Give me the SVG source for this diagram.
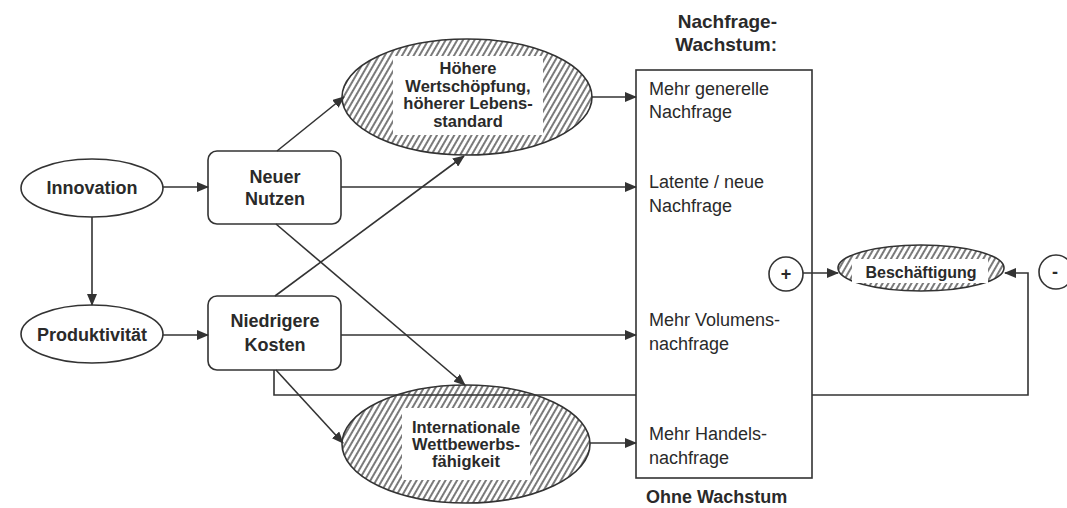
<svg xmlns="http://www.w3.org/2000/svg" width="1067" height="508" viewBox="0 0 1067 508">
<style>
.ln{fill:none;stroke:#333;stroke-width:1.6}
.nd{fill:#fff;stroke:#333;stroke-width:1.6}
.ht{fill:url(#hatch);stroke:#333;stroke-width:1.6}
.wb{fill:#fff;stroke:none}
text{font-family:"Liberation Sans",Arial,sans-serif;fill:#2a2a2a}
.b{font-weight:bold;font-size:18px;text-anchor:middle}
.e{font-weight:bold;font-size:16.5px;text-anchor:middle}
.r{font-size:18px}
.h{font-weight:bold;font-size:19px}
</style>
<defs>
<pattern id="hatch" width="5" height="10" patternUnits="userSpaceOnUse" patternTransform="rotate(30)">
<rect width="5" height="10" fill="#fff"/>
<line x1="1" y1="0" x2="1" y2="10" stroke="#333" stroke-width="1.3"/>
</pattern>
<marker id="ar" markerWidth="12" markerHeight="10" refX="11" refY="5" orient="auto" markerUnits="userSpaceOnUse">
<path d="M0,0 L12,5 L0,10 Z" fill="#333"/>
</marker>
</defs>

<g id="innovation">
<ellipse class="nd" cx="92" cy="188" rx="71" ry="29"/>
<text class="b" x="92" y="194">Innovation</text>
</g>
<g id="produktivitaet">
<ellipse class="nd" cx="92" cy="334" rx="71" ry="29"/>
<text class="b" x="92" y="341">Produktivität</text>
</g>
<g id="neuer-nutzen">
<rect class="nd" x="208" y="151" width="133" height="73" rx="9"/>
<text class="b" x="275" y="183">Neuer</text>
<text class="b" x="275" y="205">Nutzen</text>
</g>
<g id="niedrigere-kosten">
<rect class="nd" x="208" y="296" width="133" height="74" rx="9"/>
<text class="b" x="275" y="327">Niedrigere</text>
<text class="b" x="275" y="351">Kosten</text>
</g>
<g id="hoehere-wertschoepfung">
<ellipse class="ht" cx="467" cy="97" rx="125" ry="58"/>
<rect class="wb" x="393" y="56" width="150" height="79"/>
<text class="e" x="468" y="74">Höhere</text>
<text class="e" x="468" y="92">Wertschöpfung,</text>
<text class="e" x="468" y="109">höherer Lebens-</text>
<text class="e" x="468" y="127">standard</text>
</g>
<g id="internationale-wettbewerbsfaehigkeit">
<ellipse class="ht" cx="466" cy="444" rx="124" ry="59"/>
<rect class="wb" x="402" y="408" width="128" height="72"/>
<text class="e" x="466" y="433">Internationale</text>
<text class="e" x="466" y="450">Wettbewerbs-</text>
<text class="e" x="466" y="467">fähigkeit</text>
</g>
<g id="nachfrage-box">
<text class="h" x="777" y="28" text-anchor="end">Nachfrage-</text>
<text class="h" x="777" y="51" text-anchor="end">Wachstum:</text>
<rect class="nd" x="636" y="70" width="176" height="408"/>
<text class="r" x="649" y="95">Mehr generelle</text>
<text class="r" x="649" y="118">Nachfrage</text>
<text class="r" x="649" y="188">Latente / neue</text>
<text class="r" x="649" y="212">Nachfrage</text>
<text class="r" x="649" y="326">Mehr Volumens-</text>
<text class="r" x="649" y="350">nachfrage</text>
<text class="r" x="649" y="440">Mehr Handels-</text>
<text class="r" x="649" y="464">nachfrage</text>
<text class="h" x="646" y="503" style="font-size:18px">Ohne Wachstum</text>
</g>
<g id="plus">
<circle class="nd" cx="786" cy="274" r="17"/>
<text x="786" y="280" style="font-size:18px;font-weight:bold;text-anchor:middle">+</text>
</g>
<g id="beschaeftigung">
<ellipse class="ht" cx="921" cy="268" rx="83" ry="23"/>
<rect class="wb" x="852" y="259" width="136" height="24"/>
<text class="e" x="921" y="278" style="font-size:16px">Beschäftigung</text>
</g>
<g id="minus">
<circle class="nd" cx="1056" cy="272" r="17"/>
<text x="1055" y="278" style="font-size:18px;font-weight:bold;text-anchor:middle">-</text>
</g>

<g id="connectors">
<line class="ln" x1="163" y1="187" x2="208" y2="187" marker-end="url(#ar)"/>
<line class="ln" x1="92" y1="217" x2="92" y2="305" marker-end="url(#ar)"/>
<line class="ln" x1="163" y1="335" x2="208" y2="335" marker-end="url(#ar)"/>
<line class="ln" x1="277" y1="151" x2="344" y2="97" marker-end="url(#ar)"/>
<line class="ln" x1="341" y1="187" x2="636" y2="187" marker-end="url(#ar)"/>
<line class="ln" x1="276" y1="224" x2="465" y2="385" marker-end="url(#ar)"/>
<line class="ln" x1="275" y1="296" x2="464" y2="156" marker-end="url(#ar)"/>
<line class="ln" x1="341" y1="335" x2="636" y2="335" marker-end="url(#ar)"/>
<line class="ln" x1="276" y1="370" x2="343" y2="443" marker-end="url(#ar)"/>
<line class="ln" x1="592" y1="97" x2="636" y2="97" marker-end="url(#ar)"/>
<line class="ln" x1="590" y1="443" x2="636" y2="443" marker-end="url(#ar)"/>
<line class="ln" x1="803" y1="273" x2="838" y2="273" marker-end="url(#ar)"/>
<polyline class="ln" points="274,370 274,395 636,395"/>
<polyline class="ln" points="812,395 1028,395 1028,273 1005,273" marker-end="url(#ar)"/>
</g>
</svg>
